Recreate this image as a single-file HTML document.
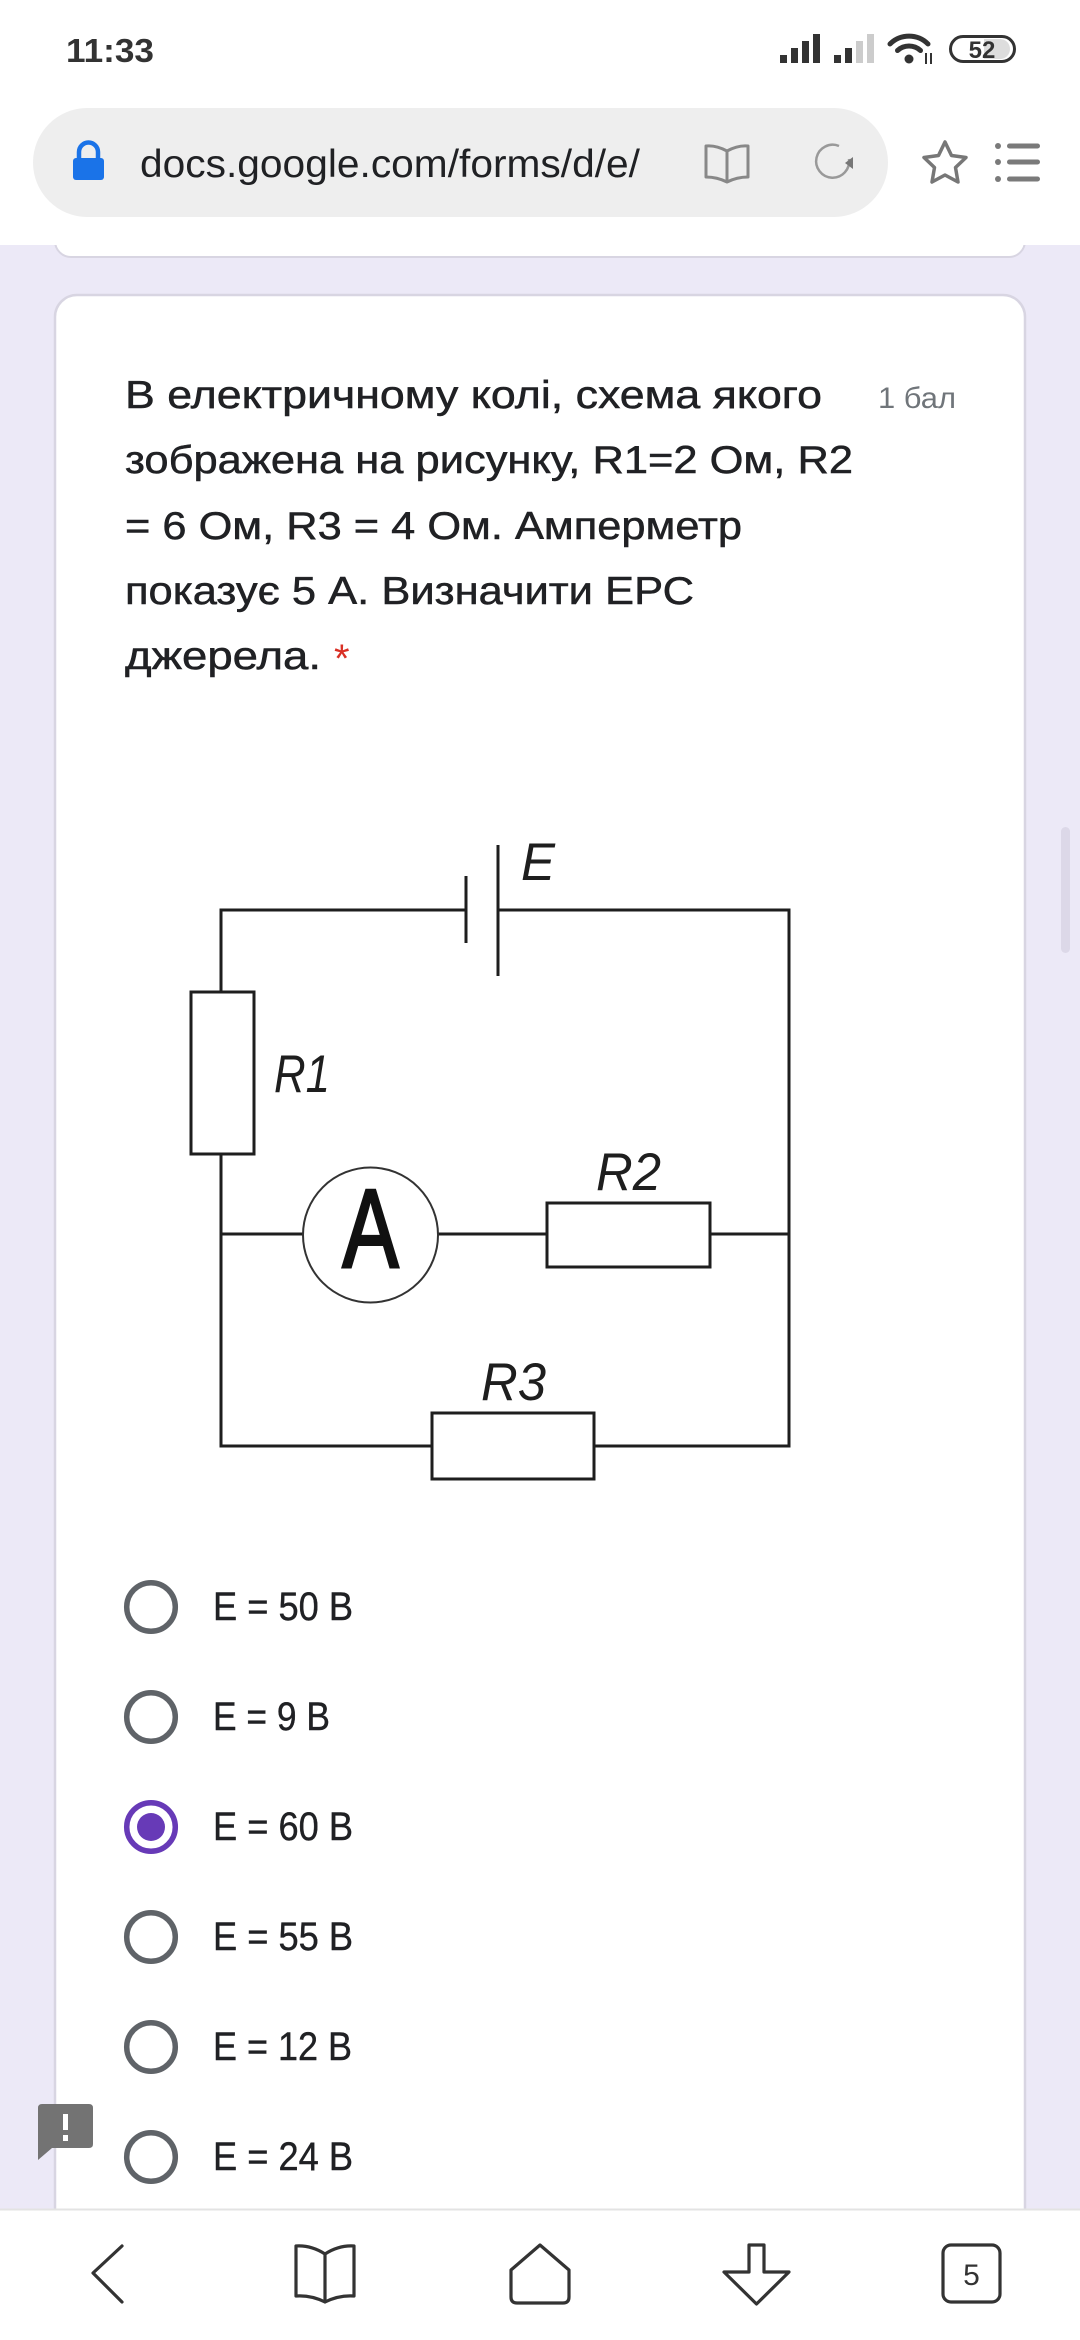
<!DOCTYPE html>
<html>
<head>
<meta charset="utf-8">
<style>
  html,body{margin:0;padding:0;background:#ece9f7;}
  body{width:1080px;height:2340px;overflow:hidden;}
  svg{display:block;}
  .sans{font-family:"Liberation Sans","Noto Sans CJK SC",sans-serif;}
</style>
</head>
<body>
<svg width="1080" height="2340" viewBox="0 0 1080 2340" xmlns="http://www.w3.org/2000/svg" class="sans">
  <!-- page background -->
  <rect x="0" y="0" width="1080" height="2340" fill="#ece9f7"/>

  <!-- previous card bottom -->
  <rect x="55" y="150" width="970" height="107" rx="16" fill="#ffffff" stroke="#d8d5e2" stroke-width="2"/>

  <!-- main card -->
  <rect x="55" y="295" width="970" height="2000" rx="22" fill="#ffffff" stroke="#d8d5e2" stroke-width="2.5"/>

  <!-- scrollbar -->
  <rect x="1061" y="827" width="9" height="126" rx="4.5" fill="#dcd8e8"/>

  <!-- browser chrome -->
  <rect x="0" y="0" width="1080" height="245" fill="#ffffff"/>

  <!-- status bar -->
  <text x="66" y="62" font-size="33" font-weight="bold" fill="#333" textLength="88" lengthAdjust="spacingAndGlyphs">11:33</text>

  <!-- signal 1 -->
  <g fill="#333">
    <rect x="780" y="55" width="7" height="8"/>
    <rect x="791" y="48" width="7" height="15"/>
    <rect x="802" y="41" width="7" height="22"/>
    <rect x="813" y="34" width="7" height="29"/>
  </g>
  <!-- signal 2 -->
  <g>
    <rect x="834" y="55" width="7" height="8" fill="#333"/>
    <rect x="845" y="48" width="7" height="15" fill="#333"/>
    <rect x="856" y="41" width="7" height="22" fill="#cccccc"/>
    <rect x="867" y="34" width="7" height="29" fill="#cccccc"/>
  </g>
  <!-- wifi -->
  <g fill="none" stroke="#333" stroke-width="5" stroke-linecap="round">
    <path d="M890 44 A27 27 0 0 1 928 44"/>
    <path d="M897.5 50.5 A17 17 0 0 1 920.5 50.5"/>
  </g>
  <circle cx="909" cy="59" r="4.5" fill="#333"/>
  <g stroke="#333" stroke-width="2">
    <line x1="926" y1="53" x2="926" y2="64"/>
    <line x1="931" y1="53" x2="931" y2="64"/>
  </g>
  <!-- battery -->
  <rect x="950.5" y="36.5" width="64" height="25" rx="12.5" fill="#ffffff" stroke="#333" stroke-width="3"/>
  <path d="M984 39 L1000 39 A10 10 0 0 1 1000 59 L984 59 Z" fill="#dddddd"/>
  <text x="982" y="58" font-size="24" font-weight="bold" fill="#333" text-anchor="middle">52</text>

  <!-- address pill -->
  <rect x="33" y="108" width="855" height="109" rx="54.5" fill="#eeeeee"/>
  <!-- lock -->
  <path d="M79 160 L79 152 A9.5 9.5 0 0 1 98 152 L98 160" fill="none" stroke="#1a73e8" stroke-width="4.5"/>
  <rect x="73" y="158" width="31" height="22" rx="3" fill="#1a73e8"/>
  <text x="140" y="177" font-size="39" fill="#202124" textLength="500" lengthAdjust="spacingAndGlyphs">docs.google.com/forms/d/e/</text>
  <!-- book icon in pill -->
  <path d="M727 151 Q716 145 706 146 L706 177 Q717 177 727 182 Q737 177 748 177 L748 146 Q738 145 727 151 Z M727 151 L727 182" fill="none" stroke="#888" stroke-width="3" stroke-linejoin="round"/>
  <!-- refresh -->
  <path d="M849 159 A16.5 16.5 0 1 1 839 146" fill="none" stroke="#999" stroke-width="2.5"/>
  <path d="M845 163 L853 157 L853 169 Z" fill="#777"/>
  <!-- star -->
  <path d="M945 142 L951.5 155.5 L966 157.5 L955.5 167.5 L958 182 L945 175 L932 182 L934.5 167.5 L924 157.5 L938.5 155.5 Z" fill="none" stroke="#777" stroke-width="3.5" stroke-linejoin="round"/>
  <!-- menu list -->
  <g fill="#7a7a7a">
    <circle cx="998" cy="146" r="3"/>
    <circle cx="998" cy="162" r="3"/>
    <circle cx="998" cy="179" r="3"/>
    <rect x="1007" y="143.5" width="33" height="5" rx="2.5"/>
    <rect x="1007" y="159.5" width="33" height="5" rx="2.5"/>
    <rect x="1007" y="176.5" width="33" height="5" rx="2.5"/>
  </g>

  <!-- question text -->
  <g font-size="39" fill="#202124" stroke="#202124" stroke-width="0.5">
    <text x="125" y="408" textLength="697" lengthAdjust="spacingAndGlyphs">В електричному колі, схема якого</text>
    <text x="125" y="473" textLength="728" lengthAdjust="spacingAndGlyphs">зображена на рисунку, R1=2 Ом, R2</text>
    <text x="125" y="539" textLength="617" lengthAdjust="spacingAndGlyphs">= 6 Ом, R3 = 4 Ом. Амперметр</text>
    <text x="125" y="604" textLength="569" lengthAdjust="spacingAndGlyphs">показує 5 А. Визначити ЕРС</text>
    <text x="125" y="669" textLength="196" lengthAdjust="spacingAndGlyphs">джерела.</text>
  </g>
  <text x="334" y="672" font-size="40" fill="#d93025">*</text>
  <text x="878" y="408" font-size="30" fill="#70757a" textLength="78" lengthAdjust="spacingAndGlyphs">1 бал</text>

  <!-- circuit -->
  <g fill="none" stroke="#1e1e1e" stroke-width="3">
    <!-- outer loop -->
    <polyline points="466,910 221,910 221,1446 789,1446 789,910 498,910"/>
    <!-- middle branch -->
    <line x1="221" y1="1234" x2="303" y2="1234"/>
    <line x1="438" y1="1234" x2="547" y2="1234"/>
    <line x1="710" y1="1234" x2="789" y2="1234"/>
    <!-- battery plates -->
    <line x1="466" y1="876" x2="466" y2="943"/>
    <line x1="498" y1="845" x2="498" y2="976"/>
  </g>
  <!-- resistors -->
  <g fill="#ffffff" stroke="#1e1e1e" stroke-width="3">
    <rect x="191" y="992" width="63" height="162"/>
    <rect x="547" y="1203" width="163" height="64"/>
    <rect x="432" y="1413" width="162" height="66"/>
  </g>
  <!-- ammeter -->
  <circle cx="370.5" cy="1235" r="67.5" fill="#ffffff" stroke="#333" stroke-width="2"/>
  <text x="370.5" y="1267" font-size="111" fill="#111" stroke="#111" stroke-width="3" text-anchor="middle" textLength="56" lengthAdjust="spacingAndGlyphs">A</text>
  <!-- labels -->
  <g font-size="53" font-style="italic" fill="#1e1e1e">
    <text x="521" y="880" textLength="34" lengthAdjust="spacingAndGlyphs">E</text>
    <text x="274" y="1092" textLength="56" lengthAdjust="spacingAndGlyphs">R1</text>
    <text x="596" y="1190" textLength="65" lengthAdjust="spacingAndGlyphs">R2</text>
    <text x="481" y="1400" textLength="65" lengthAdjust="spacingAndGlyphs">R3</text>
  </g>

  <!-- radio options -->
  <g fill="none" stroke="#5f6368" stroke-width="5.5">
    <circle cx="151" cy="1607" r="24.3"/>
    <circle cx="151" cy="1717" r="24.3"/>
    <circle cx="151" cy="1937" r="24.3"/>
    <circle cx="151" cy="2047" r="24.3"/>
    <circle cx="151" cy="2157" r="24.3"/>
  </g>
  <circle cx="151" cy="1827" r="24.3" fill="none" stroke="#673ab7" stroke-width="5.5"/>
  <circle cx="151" cy="1827" r="14" fill="#673ab7"/>
  <g font-size="40" fill="#202124" stroke="#202124" stroke-width="0.4">
    <text x="213" y="1620" textLength="140" lengthAdjust="spacingAndGlyphs">E = 50 B</text>
    <text x="213" y="1730" textLength="117" lengthAdjust="spacingAndGlyphs">E = 9 B</text>
    <text x="213" y="1840" textLength="140" lengthAdjust="spacingAndGlyphs">E = 60 B</text>
    <text x="213" y="1950" textLength="140" lengthAdjust="spacingAndGlyphs">E = 55 B</text>
    <text x="213" y="2060" textLength="139" lengthAdjust="spacingAndGlyphs">E = 12 B</text>
    <text x="213" y="2170" textLength="140" lengthAdjust="spacingAndGlyphs">E = 24 B</text>
  </g>

  <!-- feedback icon -->
  <path d="M42 2104 L89 2104 Q93 2104 93 2108 L93 2144 Q93 2148 89 2148 L52 2148 L38 2160 L38 2108 Q38 2104 42 2104 Z" fill="#737373"/>
  <rect x="63" y="2114" width="5" height="16" fill="#ffffff"/>
  <rect x="63" y="2135" width="5" height="6" fill="#ffffff"/>

  <!-- bottom nav -->
  <rect x="0" y="2209" width="1080" height="131" fill="#ffffff"/>
  <line x1="0" y1="2209.5" x2="1080" y2="2209.5" stroke="#e3e3e3" stroke-width="2"/>
  <g fill="none" stroke="#333" stroke-width="3.2" stroke-linejoin="round" stroke-linecap="round">
    <polyline points="122,2246 93,2273 122,2302"/>
    <path d="M325 2254 Q311 2245 296 2246 L296 2296 Q311 2295 325 2302 Q339 2295 354 2296 L354 2246 Q339 2245 325 2254 Z M325 2254 L325 2302"/>
    <path d="M540 2245 L569 2270 L569 2297 Q569 2303 563 2303 L517 2303 Q511 2303 511 2297 L511 2270 Z"/>
    <path d="M749 2245 L764 2245 L764 2272 L789 2272 L756.5 2304 L724 2272 L749 2272 Z"/>
    <rect x="943" y="2245" width="57" height="57" rx="8"/>
  </g>
  <text x="971.5" y="2285" font-size="30" fill="#333" text-anchor="middle">5</text>
</svg>
</body>
</html>
